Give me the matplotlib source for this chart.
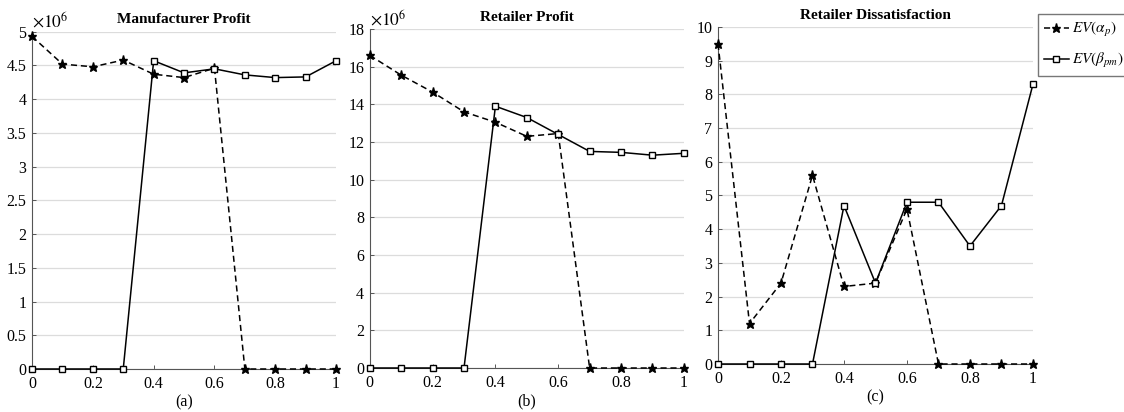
import matplotlib
matplotlib.use("Agg")
import matplotlib.pyplot as plt
from matplotlib.ticker import FuncFormatter, MultipleLocator

plt.rcParams["font.family"] = ["Liberation Serif", "DejaVu Serif"]
plt.rcParams["mathtext.fontset"] = "stix"

x = [0, 0.1, 0.2, 0.3, 0.4, 0.5, 0.6, 0.7, 0.8, 0.9, 1.0]

# profits in units of 1e6
manu_alpha = [4.93, 4.52, 4.48, 4.58, 4.37, 4.32, 4.46, 0, 0, 0, 0]
manu_beta = [0, 0, 0, 0, 4.57, 4.39, 4.45, 4.36, 4.32, 4.33, 4.57]
ret_alpha = [16.6, 15.55, 14.65, 13.6, 13.05, 12.3, 12.45, 0, 0, 0, 0]
ret_beta = [0, 0, 0, 0, 13.9, 13.3, 12.4, 11.5, 11.45, 11.3, 11.4]
dis_alpha = [9.5, 1.2, 2.4, 5.6, 2.3, 2.4, 4.6, 0, 0, 0, 0]
dis_beta = [0, 0, 0, 0, 4.7, 2.4, 4.8, 4.8, 3.5, 4.7, 8.3]

titles = ["Manufacturer Profit", "Retailer Profit", "Retailer Dissatisfaction"]
sublabels = ["(a)", "(b)", "(c)"]
ylims = [(5, 0.5), (18, 2), (10, 1)]
alpha_series = [manu_alpha, ret_alpha, dis_alpha]
beta_series = [manu_beta, ret_beta, dis_beta]
has_offset = [True, True, False]

fig = plt.figure(figsize=(11.24, 4.12), dpi=100)
rects = [
    [0.0285, 0.1044, 0.2705, 0.8186],
    [0.329, 0.1068, 0.2794, 0.8228],
    [0.6388, 0.1165, 0.2802, 0.818],
]

fmt = FuncFormatter(lambda v, p: f"{v:g}")

for i, r in enumerate(rects):
    ax = fig.add_axes(r)
    la, = ax.plot(x, alpha_series[i], color="black", ls="--", lw=1.1,
                  marker="*", ms=6.5, mfc="black", mec="black", clip_on=False,
                  zorder=3, dashes=(4, 2.5))
    lb, = ax.plot(x, beta_series[i], color="black", ls="-", lw=1.1,
                  marker="s", ms=4.5, mfc="white", mec="black", mew=1.0,
                  clip_on=False, zorder=4)
    top, step = ylims[i]
    ax.set_ylim(0, top)
    ax.set_xlim(0, 1)
    ax.yaxis.set_major_locator(MultipleLocator(step))
    ax.xaxis.set_major_locator(MultipleLocator(0.2))
    ax.yaxis.set_major_formatter(fmt)
    ax.xaxis.set_major_formatter(fmt)
    ax.grid(axis="y", color="#dcdcdc", lw=0.9)
    ax.set_axisbelow(True)
    for s in ["top", "right"]:
        ax.spines[s].set_visible(False)
    for s in ["left", "bottom"]:
        ax.spines[s].set_color("#555555")
        ax.spines[s].set_linewidth(0.8)
    ax.tick_params(direction="in", length=3, width=0.7, color="#555555",
                   labelsize=11.5, pad=4)
    ax.tick_params(axis="x", pad=5)
    ax.set_title(titles[i], fontsize=11, fontweight="bold", pad=6)
    ax.set_xlabel(sublabels[i], fontsize=11.5, labelpad=2)
    if has_offset[i]:
        ax.text(0.0, 1.0, r"$\times10^{6}$", transform=ax.transAxes,
                fontsize=12.5, ha="left", va="bottom")

fig.legend([la, lb], [r"$EV(\alpha_p)$", r"$EV(\beta_{pm})$"],
           loc="upper left", bbox_to_anchor=(1038 / 1124, 1 - 14 / 412),
           frameon=True, fancybox=False, edgecolor="#555555", fontsize=11,
           handlelength=1.6, borderaxespad=0, handletextpad=0.2,
           labelspacing=0.8, borderpad=0.4)

fig.savefig("out.png", dpi=100)
